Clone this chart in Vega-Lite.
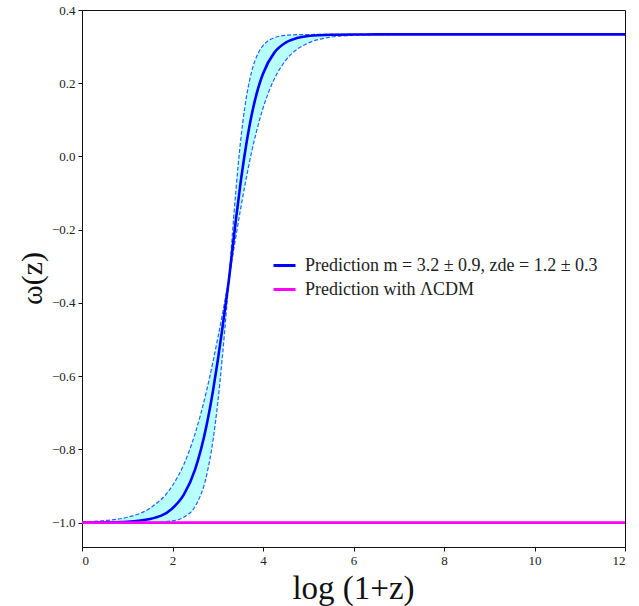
{
  "$schema": "https://vega.github.io/schema/vega-lite/v6.json",
  "autosize": {"type": "none"},
  "width": 543,
  "height": 537,
  "padding": {"left": 82, "top": 10, "right": 14, "bottom": 59},
  "background": "white",
  "config": {
    "view": {"stroke": "#111", "strokeWidth": 1},
    "font": "Liberation Serif",
    "axis": {
      "grid": false,
      "domainColor": "#111",
      "tickColor": "#111",
      "tickSize": 4,
      "labelFont": "Liberation Serif",
      "labelFontSize": 13,
      "labelColor": "#222",
      "titleFont": "Liberation Serif",
      "titleFontWeight": "normal",
      "titleColor": "#111"
    }
  },
  "datasets": {
    "curves": [
      {"x": 0, "central": -1.0, "upper": -0.998, "lower": -1.0},
      {"x": 0.5, "central": -0.9994, "upper": -0.9946, "lower": -1.0},
      {"x": 1.0, "central": -0.9976, "upper": -0.9854, "lower": -1.0},
      {"x": 1.5, "central": -0.9902, "upper": -0.9609, "lower": -0.9995},
      {"x": 2.0, "central": -0.9609, "upper": -0.8989, "lower": -0.9952},
      {"x": 2.25, "central": -0.9236, "upper": -0.8411, "lower": -0.9854},
      {"x": 2.5, "central": -0.8545, "upper": -0.7568, "lower": -0.9559},
      {"x": 2.75, "central": -0.7362, "upper": -0.6414, "lower": -0.8729},
      {"x": 2.9, "central": -0.6361, "upper": -0.5576, "lower": -0.7713},
      {"x": 3.0, "central": -0.5576, "upper": -0.4966, "lower": -0.6732},
      {"x": 3.1, "central": -0.4713, "upper": -0.4325, "lower": -0.5502},
      {"x": 3.2, "central": -0.3799, "upper": -0.3667, "lower": -0.408},
      {"x": 3.25, "central": -0.3333, "upper": -0.3333, "lower": -0.3333},
      {"x": 3.3, "central": -0.2793, "upper": -0.2504, "lower": -0.2951},
      {"x": 3.4, "central": -0.1739, "upper": -0.0944, "lower": -0.2195},
      {"x": 3.5, "central": -0.0765, "upper": 0.0364, "lower": -0.1468},
      {"x": 3.6, "central": 0.0096, "upper": 0.136, "lower": -0.0787},
      {"x": 3.75, "central": 0.114, "upper": 0.2322, "lower": 0.0127},
      {"x": 3.9, "central": 0.1895, "upper": 0.2836, "lower": 0.0891},
      {"x": 4.0, "central": 0.2261, "upper": 0.3027, "lower": 0.1317},
      {"x": 4.25, "central": 0.2836, "upper": 0.3244, "lower": 0.2117},
      {"x": 4.5, "central": 0.3108, "upper": 0.3308, "lower": 0.2622},
      {"x": 4.75, "central": 0.3232, "upper": 0.3326, "lower": 0.2923},
      {"x": 5.0, "central": 0.3288, "upper": 0.3331, "lower": 0.3099},
      {"x": 5.5, "central": 0.3325, "upper": 0.3333, "lower": 0.3258},
      {"x": 6.0, "central": 0.3332, "upper": 0.3333, "lower": 0.331},
      {"x": 6.5, "central": 0.3333, "upper": 0.3333, "lower": 0.3326},
      {"x": 7.0, "central": 0.3333, "upper": 0.3333, "lower": 0.3331},
      {"x": 8.0, "central": 0.3333, "upper": 0.3333, "lower": 0.3333},
      {"x": 10.0, "central": 0.3333, "upper": 0.3333, "lower": 0.3333},
      {"x": 12.0, "central": 0.3333, "upper": 0.3333, "lower": 0.3333}
    ],
    "lcdm": [
      {"x": 0, "w": -1.0},
      {"x": 12, "w": -1.0}
    ]
  },
  "layer": [
    {
      "data": {"name": "curves"},
      "mark": {"type": "area", "color": "cyan", "opacity": 0.28, "interpolate": "monotone"},
      "encoding": {
        "x": {"field": "x", "type": "quantitative", "scale": {"domain": [0, 12], "nice": false}, "axis": {"values": [0, 2, 4, 6, 8, 10, 12], "format": "d", "title": "log (1+z)", "titleFontSize": 33, "titleX": 271, "titleY": 41, "titleBaseline": "middle", "labelPadding": 3}},
        "y": {"field": "lower", "type": "quantitative", "scale": {"domain": [-1.0667, 0.4], "nice": false, "zero": false}, "axis": {"values": [-1.0, -0.8, -0.6, -0.4, -0.2, 0.0, 0.2, 0.4], "labelExpr": "replace(format(datum.value, '.1f'), '-', '\u2212')", "title": "ω(z)", "titleFontSize": 30, "titleX": -50, "titleY": 268, "titleAngle": -90, "titleBaseline": "middle", "titleAlign": "center", "labelPadding": 3}},
        "y2": {"field": "upper"}
      }
    },
    {
      "data": {"name": "curves"},
      "mark": {"type": "line", "color": "#1f63ff", "strokeWidth": 1.2, "strokeDash": [4, 2], "interpolate": "monotone"},
      "encoding": {
        "x": {"field": "x", "type": "quantitative"},
        "y": {"field": "upper", "type": "quantitative"}
      }
    },
    {
      "data": {"name": "curves"},
      "mark": {"type": "line", "color": "#1f63ff", "strokeWidth": 1.2, "strokeDash": [4, 2], "interpolate": "monotone"},
      "encoding": {
        "x": {"field": "x", "type": "quantitative"},
        "y": {"field": "lower", "type": "quantitative"}
      }
    },
    {
      "data": {"name": "curves"},
      "mark": {"type": "line", "strokeWidth": 2.6, "interpolate": "monotone"},
      "encoding": {
        "x": {"field": "x", "type": "quantitative"},
        "y": {"field": "central", "type": "quantitative"},
        "color": {
          "datum": "Prediction m = 3.2 ± 0.9, zde = 1.2 ± 0.3",
          "type": "nominal",
          "scale": {"domain": ["Prediction m = 3.2 ± 0.9, zde = 1.2 ± 0.3", "Prediction with ΛCDM"], "range": ["#0000ff", "#ff00ff"]},
          "legend": {
            "title": null,
            "orient": "none",
            "legendX": 190,
            "legendY": 243,
            "symbolType": "stroke",
            "symbolSize": 484,
            "symbolStrokeWidth": 3,
            "labelFont": "Liberation Serif",
            "labelFontSize": 18,
            "labelColor": "#222",
            "labelOffset": 8,
            "rowPadding": 2,
            "labelLimit": 500
          }
        }
      }
    },
    {
      "data": {"name": "lcdm"},
      "mark": {"type": "line", "strokeWidth": 2.6},
      "encoding": {
        "x": {"field": "x", "type": "quantitative"},
        "y": {"field": "w", "type": "quantitative"},
        "color": {"datum": "Prediction with ΛCDM", "type": "nominal"}
      }
    }
  ]
}
